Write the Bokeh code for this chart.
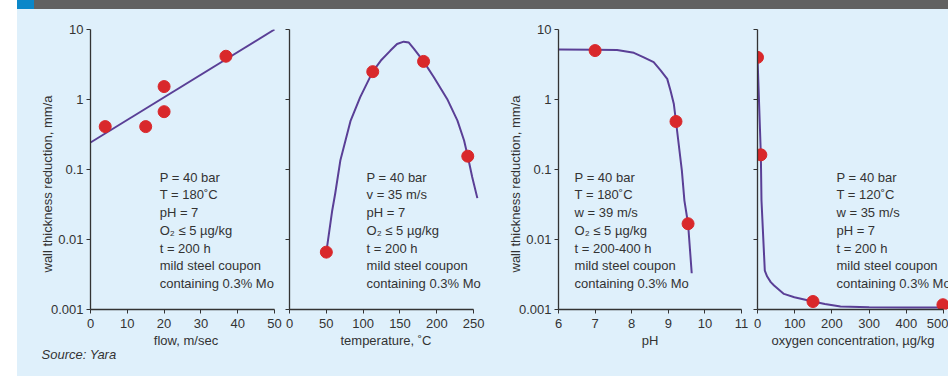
from bokeh.plotting import figure
from bokeh.models import Range1d, FixedTicker, CustomJSTickFormatter, Label, Spacer, Title, Div
from bokeh.layouts import row, column
from bokeh.embed import file_html
from bokeh.resources import INLINE

# ---------------- data ----------------
y_ticks = [0.001, 0.01, 0.1, 1, 10]

flow_ticks = [0, 10, 20, 30, 40, 50]
flow_pts_x = [4, 15, 20, 20, 36.8]
flow_pts_y = [0.41, 0.41, 1.53, 0.67, 4.15]
flow_fit_x = [0, 50]
flow_fit_y = [0.243, 10]

temp_ticks = [0, 50, 100, 150, 200, 250]
temp_pts_x = [50, 113, 182, 242]
temp_pts_y = [0.0066, 2.5, 3.5, 0.155]
temp_curve_x = [50, 58, 62, 69, 83, 96, 113, 124, 137, 146, 155, 162, 169, 182, 196, 214, 228, 237, 242, 248, 255]
temp_curve_y = [0.0066, 0.026, 0.045, 0.134, 0.5, 1.08, 2.5, 3.6, 5.0, 6.2, 6.7, 6.5, 5.3, 3.5, 2.08, 1.02, 0.5, 0.26, 0.155, 0.078, 0.039]

ph_ticks = [6, 7, 8, 9, 10, 11]
ph_pts_x = [7.0, 9.21, 9.54]
ph_pts_y = [5.0, 0.485, 0.0168]
ph_curve_x = [6.0, 7.0, 7.6, 8.06, 8.33, 8.6, 8.79, 8.97, 9.06, 9.15, 9.21, 9.37, 9.44, 9.54, 9.64]
ph_curve_y = [5.2, 5.15, 5.1, 4.64, 4.0, 3.41, 2.6, 1.97, 1.34, 0.87, 0.485, 0.097, 0.036, 0.0168, 0.0033]

ox_ticks = [0, 100, 200, 300, 400, 500]
ox_pts_x = [0, 9, 149, 498]
ox_pts_y = [4.0, 0.162, 0.0013, 0.00117]
ox_curve_x = [0, 9, 10.7, 19.6, 26, 35.6, 44.5, 71, 99, 149, 181, 223, 300, 400, 500]
ox_curve_y = [4.0, 0.162, 0.036, 0.0036, 0.00296, 0.00246, 0.0022, 0.00167, 0.0015, 0.0013, 0.0012, 0.0011, 0.00108, 0.00107, 0.00107]

notes_flow = ["P = 40 bar", "T = 180˚C", "pH = 7", "O₂ ≤ 5 µg/kg", "t = 200 h",
              "mild steel coupon", "containing 0.3% Mo"]
notes_temp = ["P = 40 bar", "v = 35 m/s", "pH = 7", "O₂ ≤ 5 µg/kg", "t = 200 h",
              "mild steel coupon", "containing 0.3% Mo"]
notes_ph = ["P = 40 bar", "T = 180˚C", "w = 39 m/s", "O₂ ≤ 5 µg/kg", "t = 200-400 h",
            "mild steel coupon", "containing 0.3% Mo"]
notes_ox = ["P = 40 bar", "T = 120˚C", "w = 35 m/s", "pH = 7", "t = 200 h",
            "mild steel coupon", "containing 0.3% Mo"]

y_title = "wall thickness reduction, mm/a"
source = "Source: Yara"

# ---------------- styles ----------------
BG = "#dff0fb"
LINE = "#5a3f96"
DOT = "#d9282b"
TXT = "#333333"
FONT = "Liberation Sans"
FS = "13px"
H = 367

fmt = CustomJSTickFormatter(code="return String(Number(tick.toPrecision(3)));")
blank = CustomJSTickFormatter(code="return '';")


def make_fig(width, xr, bounds, left, right, xticks, xlabel, show_ylabels):
    p = figure(width=width, height=H, x_range=Range1d(*xr), y_range=Range1d(0.001, 10),
               y_axis_type="log", output_backend="svg", toolbar_location=None,
               min_border_left=left, min_border_right=right, min_border_top=20, min_border_bottom=67)
    p.background_fill_color = BG
    p.border_fill_color = BG
    p.outline_line_color = None
    p.grid.visible = False
    for ax in (p.xaxis[0], p.yaxis[0]):
        ax.axis_line_color = TXT
        ax.axis_line_width = 1.3
        ax.major_tick_line_color = TXT
        ax.major_tick_out = 4
        ax.major_tick_in = 0
        ax.minor_tick_line_color = None
        ax.major_label_text_font = FONT
        ax.major_label_text_font_size = FS
        ax.major_label_text_color = TXT
        ax.axis_label_text_font = FONT
        ax.axis_label_text_font_size = FS
        ax.axis_label_text_font_style = "normal"
        ax.axis_label_text_color = TXT
    p.xaxis.ticker = FixedTicker(ticks=xticks)
    p.xaxis.bounds = bounds
    p.xaxis.major_label_standoff = 5
    p.xaxis.axis_label = xlabel
    p.xaxis.axis_label_standoff = 2
    p.yaxis.ticker = FixedTicker(ticks=y_ticks)
    if show_ylabels:
        p.yaxis.formatter = fmt
        p.yaxis.major_label_standoff = 3
        p.add_layout(Title(text=y_title, align="left", offset=37, standoff=-14,
                           text_font=FONT, text_font_size=FS, text_font_style="normal",
                           text_color=TXT), "left")
    else:
        p.yaxis.formatter = blank
        p.yaxis.major_label_standoff = 0
        p.yaxis.major_label_text_font_size = "0px"
    return p


def add_notes(p, x, lines):
    y0 = 0.0776
    step = 17.7 / 70.0
    for i, t in enumerate(lines):
        p.add_layout(Label(x=x, y=y0 * 10 ** (-step * i), text=t, text_font=FONT,
                           text_font_size=FS, text_color=TXT, text_baseline="middle",
                           text_align="left"))


# Panel 1: flow
p1 = make_fig(266, (0, 51.9), (0, 50), 73, 2, flow_ticks, "flow, m/sec", True)
p1.line(flow_fit_x, flow_fit_y, line_color=LINE, line_width=2)
p1.scatter(flow_pts_x, flow_pts_y, size=12, fill_color=DOT, line_color=DOT)
add_notes(p1, 18.8, notes_flow)
p1.add_layout(Title(text=source, align="left", offset=-49, standoff=-12, text_font=FONT,
                    text_font_size=FS, text_font_style="italic", text_color=TXT), "below")

# Panel 2: temperature
p2 = make_fig(207, (0, 262), (0, 250), 6, 8, temp_ticks, "temperature, ˚C", False)
p2.line(temp_curve_x, temp_curve_y, line_color=LINE, line_width=2)
p2.scatter(temp_pts_x, temp_pts_y, size=12, fill_color=DOT, line_color=DOT)
add_notes(p2, 104.6, notes_temp)

# Panel 3: pH
p3 = make_fig(260, (6, 11), (6, 11), 68, 9, ph_ticks, "pH", True)
p3.line(ph_curve_x, ph_curve_y, line_color=LINE, line_width=2)
p3.scatter(ph_pts_x, ph_pts_y, size=12, fill_color=DOT, line_color=DOT)
add_notes(p3, 6.44, notes_ph)

# Panel 4: oxygen
p4 = make_fig(198, (0, 513), (0, 500), 7, 0, ox_ticks, "oxygen concentration, µg/kg", False)
p4.line(ox_curve_x, ox_curve_y, line_color=LINE, line_width=2)
p4.scatter(ox_pts_x, ox_pts_y, size=12, fill_color=DOT, line_color=DOT)
add_notes(p4, 212, notes_ox)

topbar = row(Div(text="", width=17, height=9, margin=0),
             Div(text="", width=17, height=9, margin=0,
                 styles={"background-color": "#0a87c9", "overflow": "hidden"}),
             Div(text="", width=914, height=9, margin=0,
                 styles={"background-color": "#616161", "overflow": "hidden"}))
main = row(Spacer(width=17, height=H, styles={"background-color": "white"}), p1, p2, p3, p4,
           styles={"background-color": BG})
layout = column(topbar, main)

open("out.html", "w").write(file_html(layout, INLINE))
